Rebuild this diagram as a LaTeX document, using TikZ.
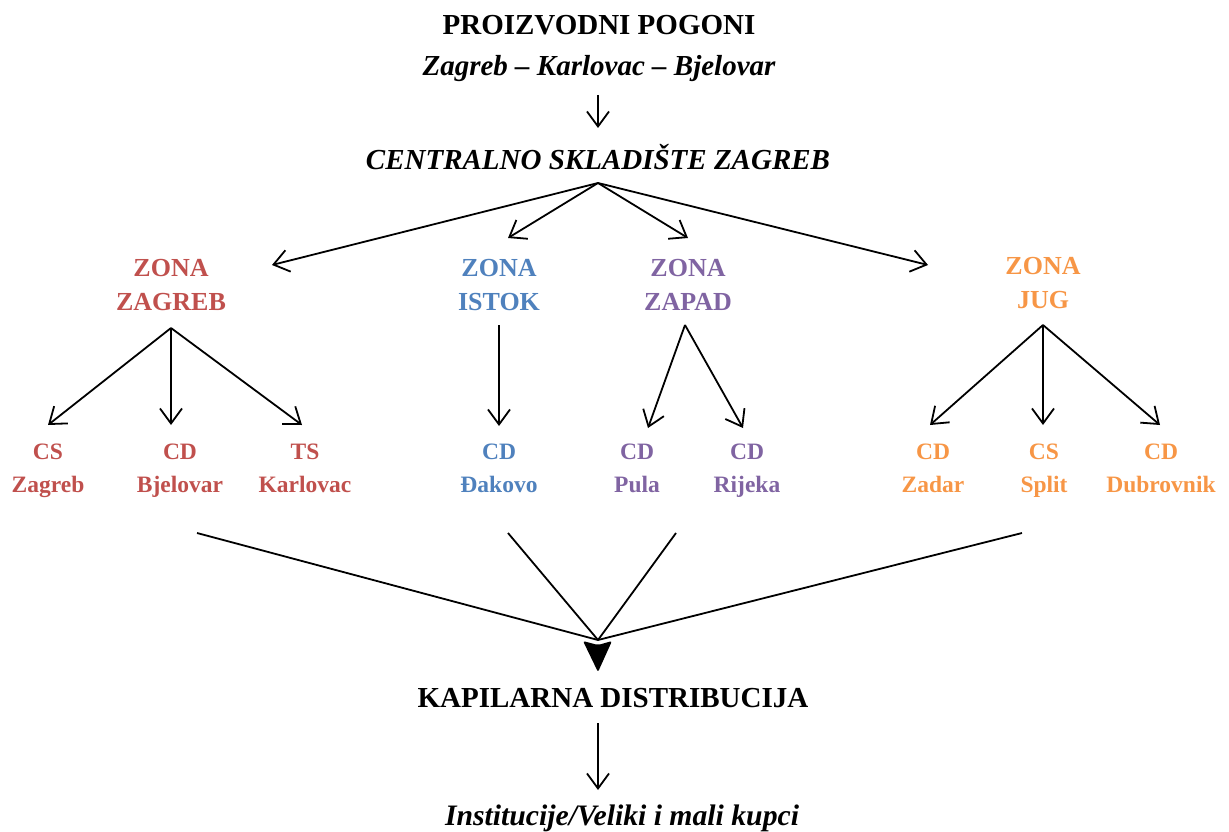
\documentclass[tikz,border=0pt]{standalone}
\usepackage{fontspec}
\setmainfont{Liberation Serif}
\usetikzlibrary{arrows.meta}
\definecolor{zred}{HTML}{C0504D}
\definecolor{zblue}{HTML}{4F81BD}
\definecolor{zpurple}{HTML}{8064A2}
\definecolor{zorange}{HTML}{F79646}
\newcommand\lfx[2]{#1\strut\\#2\strut}
\tikzset{
  big/.style={font=\bfseries\fontsize{29}{41}\selectfont, align=center, inner sep=0pt},
  bigit/.style={font=\bfseries\itshape\fontsize{29}{41}\selectfont, align=center, inner sep=0pt},
  zone/.style={font=\bfseries\fontsize{26}{34}\selectfont, align=center, inner sep=0pt},
  leaf/.style={font=\bfseries\fontsize{23.5}{33}\selectfont, align=center, inner sep=0pt},
  arr/.style={line width=1.8pt, -{Straight Barb[length=15pt,width=22pt,line width=1.8pt]}},
  ln/.style={line width=1.8pt},
}
\begin{document}
\begin{tikzpicture}[x=1pt,y=-1pt]
\useasboundingbox (0,0) rectangle (1229,832);
% top
\node[big] (pp) at (599,25) {PROIZVODNI POGONI};
\node[bigit] (zkb) at (599,69) {Zagreb -- Karlovac -- Bjelovar};
\node[bigit] (csz) at (598,157) {CENTRALNO SKLADIŠTE ZAGREB};
\draw[arr] (598,95) -- (598,128);
% zones
\node[zone, text=zred] (zz) at (171,285) {ZONA\\ZAGREB};
\node[zone, text=zblue] (zi) at (499,285) {ZONA\\ISTOK};
\node[zone, text=zpurple] (zp) at (688,285) {ZONA\\ZAPAD};
\node[zone, text=zorange] (zj) at (1043,283.5) {ZONA\\JUG};
\coordinate (cs) at (598,183);
\draw[arr] (cs) -- (272,265);
\draw[arr] (cs) -- (508,238);
\draw[arr] (cs) -- (688,238);
\draw[arr] (cs) -- (928,265);
% leaves
\node[leaf, text=zred] (l1) at (48,469) {\lfx{CS}{Zagreb}};
\node[leaf, text=zred] (l2) at (180,469) {\lfx{CD}{Bjelovar}};
\node[leaf, text=zred] (l3) at (305,469) {\lfx{TS}{Karlovac}};
\node[leaf, text=zblue] (l4) at (499,469) {\lfx{CD}{Đakovo}};
\node[leaf, text=zpurple] (l5) at (637,469) {\lfx{CD}{Pula}};
\node[leaf, text=zpurple] (l6) at (747,469) {\lfx{CD}{Rijeka}};
\node[leaf, text=zorange] (l7) at (933,469) {\lfx{CD}{Zadar}};
\node[leaf, text=zorange] (l8) at (1044,469) {\lfx{CS}{Split}};
\node[leaf, text=zorange] (l9) at (1161,469) {\lfx{CD}{Dubrovnik}};
\coordinate (zzb) at (171,328);
\draw[arr] (zzb) -- (48,425);
\draw[arr] (zzb) -- (171,425);
\draw[arr] (zzb) -- (302,425);
\draw[arr] (499,325) -- (499,426);
\coordinate (zpb) at (685,325);
\draw[arr] (zpb) -- (648,428);
\draw[arr] (zpb) -- (743,428);
\coordinate (zjb) at (1043,325);
\draw[arr] (zjb) -- (930,425);
\draw[arr] (zjb) -- (1043,425);
\draw[arr] (zjb) -- (1160,425);
% funnel
\coordinate (f) at (598,640);
\coordinate (f1) at (197,533);
\coordinate (f2) at (508,533);
\coordinate (f3) at (676,533);
\coordinate (f4) at (1022,533);
\foreach \s in {f1,f2,f3,f4} \draw[ln] (\s) -- (f);
\fill[rounded corners=2pt] (583,641) -- (598,645) -- (612,641) -- (598,672) -- cycle;
\node[big] (kd) at (613,698) {KAPILARNA DISTRIBUCIJA};
\draw[arr] (598,723) -- (598,790);
\node[bigit, font=\bfseries\itshape\fontsize{29.7}{41}\selectfont] (ivm) at (622,818) {Institucije/Veliki i mali kupci};
\end{tikzpicture}
\end{document}
